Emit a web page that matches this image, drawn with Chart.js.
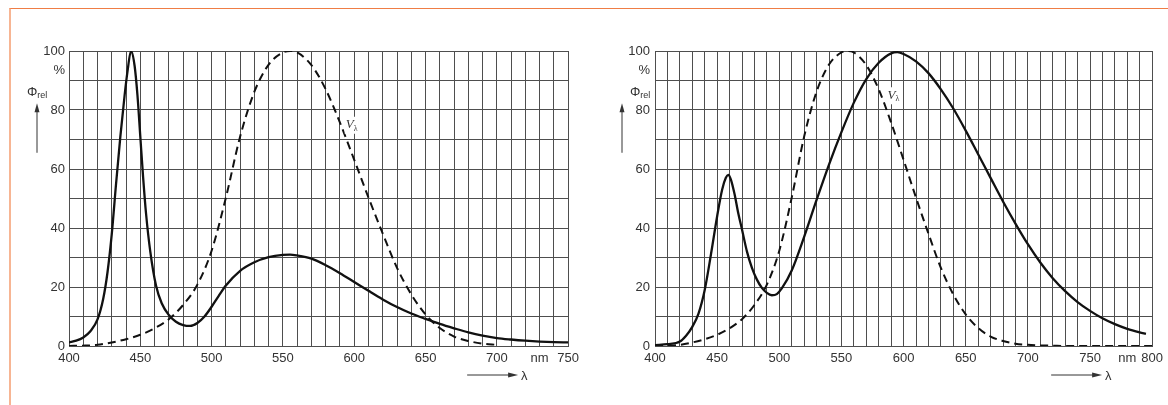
<!DOCTYPE html>
<html>
<head>
<meta charset="utf-8">
<script src="https://cdn.jsdelivr.net/npm/chart.js@4"></script>
<style>
  body { margin:0; background:#fff; width:1168px; height:405px; overflow:hidden; position:relative; }
  #frame { position:absolute; left:9px; top:8px; width:1159px; height:397px; border-top:1px solid #ef7d45; border-left:2px solid #f7b593; box-sizing:border-box; }
  canvas { position:absolute; top:0; }
  #left { left:0; }
  #right { left:584px; }
</style>
</head>
<body>
<div id="frame"></div>
<canvas id="left" width="584" height="405"></canvas>
<canvas id="right" width="584" height="405"></canvas>
<script>
// cool white LED spectrum (left)
const leftWl  = [400,405,410,415,420,424,427,430,433,436,439,441,443.5,446,448,450,452,454,457,461,465,470,475,480,485,490,495,500,505,510,520,530,540,550,555,560,570,580,590,600,610,620,630,640,650,660,670,680,690,700,710,720,730,740,750]
const leftLed = [1.2,1.8,2.9,5,9,16,25,38,55,71,85,93,100,95,85,71,57,45,32,20.5,14.5,10.5,8.2,7.1,6.8,7.8,10,13.3,17,20.5,25.5,28.4,30.1,30.9,31,30.7,29.6,27.4,24.7,21.7,18.7,15.8,13.2,11.0,9.2,7.5,6.0,4.6,3.5,2.7,2.2,1.8,1.5,1.3,1.2]

// warm white LED spectrum (right)
const rightWl  = [400,410,420,425,430,435,440,445,450,454,457,459,461,464,467,470,474,478,482,486,490,494,498,502,510,520,530,540,550,560,570,580,590,595,600,610,620,630,640,650,660,670,680,690,700,710,720,730,740,750,760,770,780,790,795]
const rightLed = [0.3,0.6,1.5,3.5,6.5,11,19,31,44,53,57,58,56.5,51.5,45,39.5,32,26.5,22.5,19.7,18,17.2,17.6,19.5,25.6,37,49.5,61.5,72.5,82.5,90.5,96,99.2,99.6,99,96.5,92.5,87,80.5,73,65,57,49,41.5,34.5,28.3,23,18.6,14.9,11.9,9.4,7.4,5.8,4.6,4.1]

// V(lambda) eye sensitivity, %
const vlWl  = [400,410,420,430,440,450,460,470,480,490,500,510,520,530,540,550,555,560,570,580,590,600,610,620,630,640,650,660,670,680,690,700,710,720,730,740,750,760,770,780,790,800]
const vlVal = [0.04,0.12,0.4,1.2,2.3,3.8,6.0,9.1,13.9,20.8,32.3,50.3,71.0,86.2,95.4,99.5,100,99.5,95.2,87.0,75.7,63.1,50.3,38.1,26.5,17.5,10.7,6.1,3.2,1.7,0.8,0.4,0.2,0.1,0,0,0,0,0,0,0,0]

const yTicks = [0,20,40,60,80,100]
const xGridLeft = [400,410,420,430,440,450,460,470,480,490,500,510,520,530,540,550,560,570,580,590,600,610,620,630,640,650,660,670,680,690,700,710,720,730,740,750]
const xGridRight = xGridLeft.concat([760,770,780,790,800])

const FONT = '"Liberation Sans", Arial, Helvetica, sans-serif'
const GRID = '#4e4e4e'
const INK = '#333'

const pts = (xs, ys) => xs.map((x, i) => ({x: x, y: ys[i]}))

const extras = {
  id: 'extras',
  afterDraw(chart, args, o) {
    const {ctx, chartArea: a, scales: {x, y}} = chart
    ctx.save()
    ctx.fillStyle = INK
    ctx.strokeStyle = INK
    ctx.font = '13px ' + FONT
    ctx.textBaseline = 'middle'
    // % under 100
    ctx.textAlign = 'right'
    ctx.fillText('%', a.left - o.pctPad, y.getPixelForValue(93.5))
    // Phi_rel
    ctx.textAlign = 'left'
    const phY = y.getPixelForValue(85.8)
    const phX = a.left - o.phiDx
    ctx.fillText('Φ', phX, phY)
    const w = ctx.measureText('Φ').width
    ctx.font = '9px ' + FONT
    ctx.fillText('rel', phX + w, phY + 3)
    // up arrow
    const ax = a.left - o.arrDx
    const top = y.getPixelForValue(82.3)
    ctx.lineWidth = 1
    ctx.beginPath()
    ctx.moveTo(ax, y.getPixelForValue(65.5))
    ctx.lineTo(ax, top + 6)
    ctx.stroke()
    ctx.beginPath()
    ctx.moveTo(ax, top)
    ctx.lineTo(ax - 2.5, top + 9)
    ctx.lineTo(ax + 2.5, top + 9)
    ctx.closePath()
    ctx.fill()
    // lambda arrow
    const ly = a.bottom + 29
    ctx.beginPath()
    ctx.moveTo(a.right - 101, ly)
    ctx.lineTo(a.right - 58, ly)
    ctx.stroke()
    ctx.beginPath()
    ctx.moveTo(a.right - 50, ly)
    ctx.lineTo(a.right - 60, ly - 2.5)
    ctx.lineTo(a.right - 60, ly + 2.5)
    ctx.closePath()
    ctx.fill()
    ctx.font = '13px ' + FONT
    ctx.textAlign = 'center'
    ctx.fillText('λ', a.right - 44, ly + 1)
    // V lambda label
    const vx = x.getPixelForValue(o.vlAt[0])
    const vy = y.getPixelForValue(o.vlAt[1])
    ctx.fillStyle = '#fff'
    ctx.fillRect(vx - 1, vy - 8, 15, 17)
    ctx.fillStyle = INK
    ctx.textAlign = 'left'
    ctx.font = 'italic 13px "Liberation Serif", "DejaVu Serif", serif'
    ctx.fillText('V', vx, vy)
    ctx.font = '8px "Liberation Serif", serif'
    ctx.fillText('λ', vx + 8, vy + 4)
    ctx.restore()
  }
}

function makeChart(id, cfg) {
  return new Chart(document.getElementById(id), {
    type: 'line',
    data: {
      datasets: [
        {data: cfg.vl, borderColor: '#111', borderWidth: 2, borderDash: [8, 5], pointRadius: 0, cubicInterpolationMode: 'monotone', fill: false},
        {data: cfg.led, borderColor: '#111', borderWidth: 2.3, pointRadius: 0, cubicInterpolationMode: 'monotone', fill: false}
      ]
    },
    options: {
      responsive: false,
      animation: false,
      devicePixelRatio: 1,
      layout: {padding: {left: 0, top: 51, right: cfg.padRight, bottom: 0}},
      plugins: {legend: {display: false}, tooltip: {enabled: false}, extras: cfg.extras},
      scales: {
        x: {
          type: 'linear', min: cfg.xMin, max: cfg.xMax,
          grid: {color: GRID, lineWidth: 1, drawTicks: false},
          border: {color: GRID},
          afterBuildTicks: s => { s.ticks = cfg.xGrid.map(v => ({value: v})) },
          afterFit: s => { s.height = 59 },
          ticks: {
            autoSkip: false, maxRotation: 0, padding: 5, color: INK,
            font: {family: FONT, size: 13},
            callback: v => v % 50 === 0 ? String(v) : (v === cfg.nmAt ? 'nm' : '')
          }
        },
        y: {
          min: 0, max: 100,
          grid: {color: GRID, lineWidth: 1, drawTicks: false},
          border: {color: GRID},
          afterFit: s => { s.width = cfg.yWidth },
          ticks: {
            stepSize: 10, padding: cfg.yPad, color: INK,
            font: {family: FONT, size: 13},
            callback: v => yTicks.includes(v) ? String(v) : ''
          }
        }
      }
    },
    plugins: [extras]
  })
}

makeChart('left', {
  vl: pts(vlWl, vlVal).filter(p => p.x <= 700),
  led: pts(leftWl, leftLed),
  xMin: 400, xMax: 750, xGrid: xGridLeft, nmAt: 730,
  yWidth: 69, yPad: 4, padRight: 15,
  extras: {pctPad: 4, phiDx: 42, arrDx: 32, vlAt: [594, 75]}
})

makeChart('right', {
  vl: pts(vlWl, vlVal),
  led: pts(rightWl, rightLed),
  xMin: 400, xMax: 800, xGrid: xGridRight, nmAt: 780,
  yWidth: 71, yPad: 5, padRight: 14,
  extras: {pctPad: 5, phiDx: 25, arrDx: 33, vlAt: [587, 85]}
})
</script>
</body>
</html>
